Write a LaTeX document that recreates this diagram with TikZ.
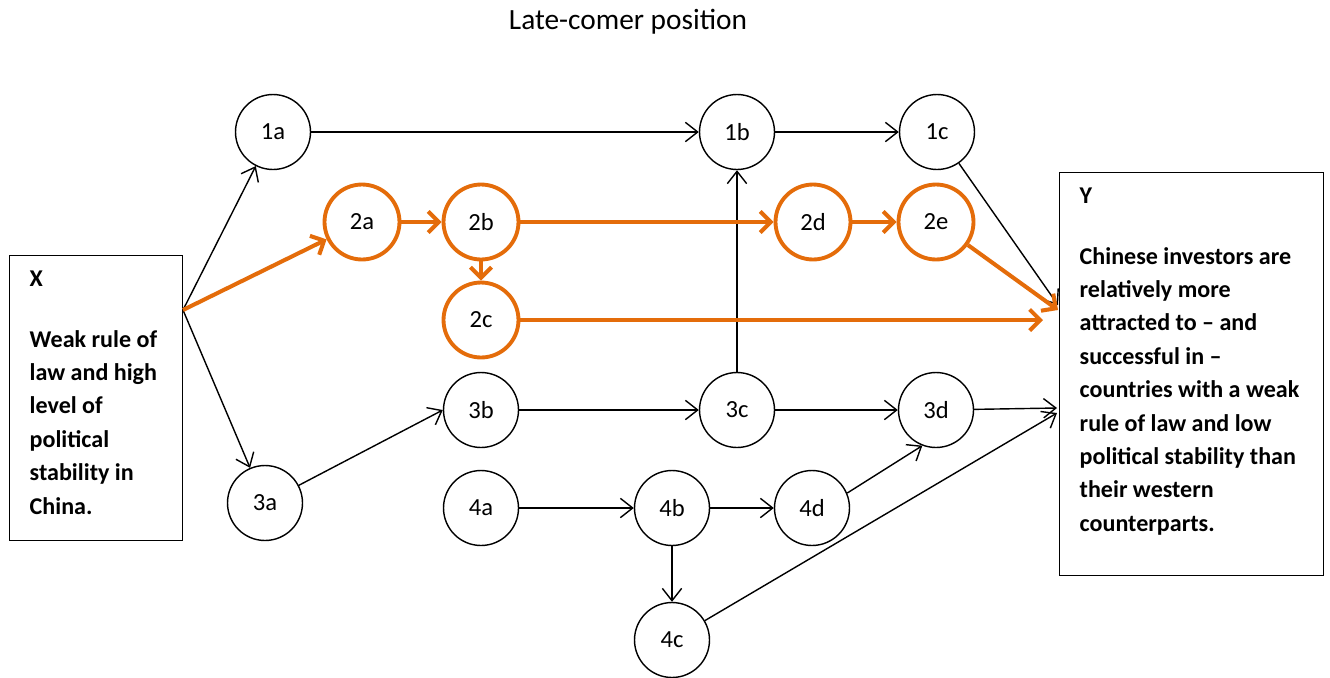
\documentclass[tikz,border=0pt]{standalone}
\usepackage{fontspec}
\setmainfont{Carlito}
\usetikzlibrary{arrows.meta}

\definecolor{pathorange}{RGB}{228,108,10}

\begin{document}
\begin{tikzpicture}[x=0.02cm,y=-0.02cm,
    var/.style={draw,circle,minimum size=1.5cm,inner sep=0pt,line width=0.8pt,
      font=\fontsize{14}{16}\selectfont},
    hotvar/.style={var,draw=pathorange,line width=2.2pt},
    link/.style={-{Straight Barb[length=7pt,width=11pt]},line width=0.8pt},
    hotlink/.style={-{Straight Barb[length=6pt,width=12pt]},draw=pathorange,line width=2.3pt},
    box/.style={draw,line width=0.8pt,anchor=north west,inner xsep=0.4cm,inner ysep=0.3cm,
      font=\bfseries\fontsize{13.7}{19}\selectfont}]

  \useasboundingbox (0,0) rectangle (1330,677);

  % titel
  \node (title) at (628,22) {\fontsize{16.7}{18}\selectfont Late-comer position};

  % X en Y
  \node[box] (X) at (9,255) {\parbox[t][5.1cm][t]{2.66cm}{\raggedright
      X\par\vspace{0.55cm}
      Weak rule of\\ law and high\\ level of\\ political\\ stability in\\ China.}};
  \node[box] (Y) at (1059,172) {\parbox[t][7.46cm][t]{4.48cm}{\raggedright
      Y\par\vspace{0.55cm}
      Chinese investors are\\ relatively more\\ attracted to -- and\\ successful in --\\
      countries with a weak\\ rule of law and low\\ political stability than\\
      their western\\ counterparts.}};

  % mechanismen (zwart)
  \foreach \n/\x/\y in {1a/273/132, 1b/737/132, 1c/937/132,
                        3a/265/503, 3b/481/410, 3c/737/410, 3d/936/410,
                        4a/481/508, 4b/672/508, 4c/672/640, 4d/812/508}
    \node[var] (\n) at (\x,\y) {\n};

  % mechanismen (oranje pad)
  \foreach \n/\x/\y in {2a/362/222, 2b/481/222, 2c/481/320, 2d/813/222, 2e/936/222}
    \node[hotvar] (\n) at (\x,\y) {\n};

  % uit- en ingangen van de pijlen
  \coordinate (Xout) at (183,310);
  \coordinate (Yin1) at (1058,305);
  \coordinate (Yin2) at (1058,310);
  \coordinate (Yin3) at (1043,320);
  \coordinate (Yin4) at (1057,408);
  \coordinate (Yin5) at (1057,413);

  % pijlen
  \draw[link] (Xout) -- (1a);
  \draw[link] (Xout) -- (3a);
  \draw[link] (1a) -- (1b);
  \draw[link] (1b) -- (1c);
  \draw[link] (1c) -- (Yin1);
  \draw[link] (3a) -- (3b.west);
  \draw[link] (3b) -- (3c);
  \draw[link] (3c) -- (1b);
  \draw[link] (3c) -- (3d);
  \draw[link] (3d) -- (Yin4);
  \draw[link] (4a) -- (4b);
  \draw[link] (4b) -- (4d);
  \draw[link] (4b) -- (4c);
  \draw[link] (4d.23) -- (3d.249);
  \draw[link] (4c) -- (Yin5);

  % oranje pad
  \draw[hotlink] (Xout) -- (2a);
  \draw[hotlink] (2a) -- (2b);
  \draw[hotlink] (2b) -- (2c);
  \draw[hotlink] (2b) -- (2d);
  \draw[hotlink] (2d) -- (2e);
  \draw[hotlink] (2e) -- (Yin2);
  \draw[hotlink] (2c) -- (Yin3);
\end{tikzpicture}
\end{document}
